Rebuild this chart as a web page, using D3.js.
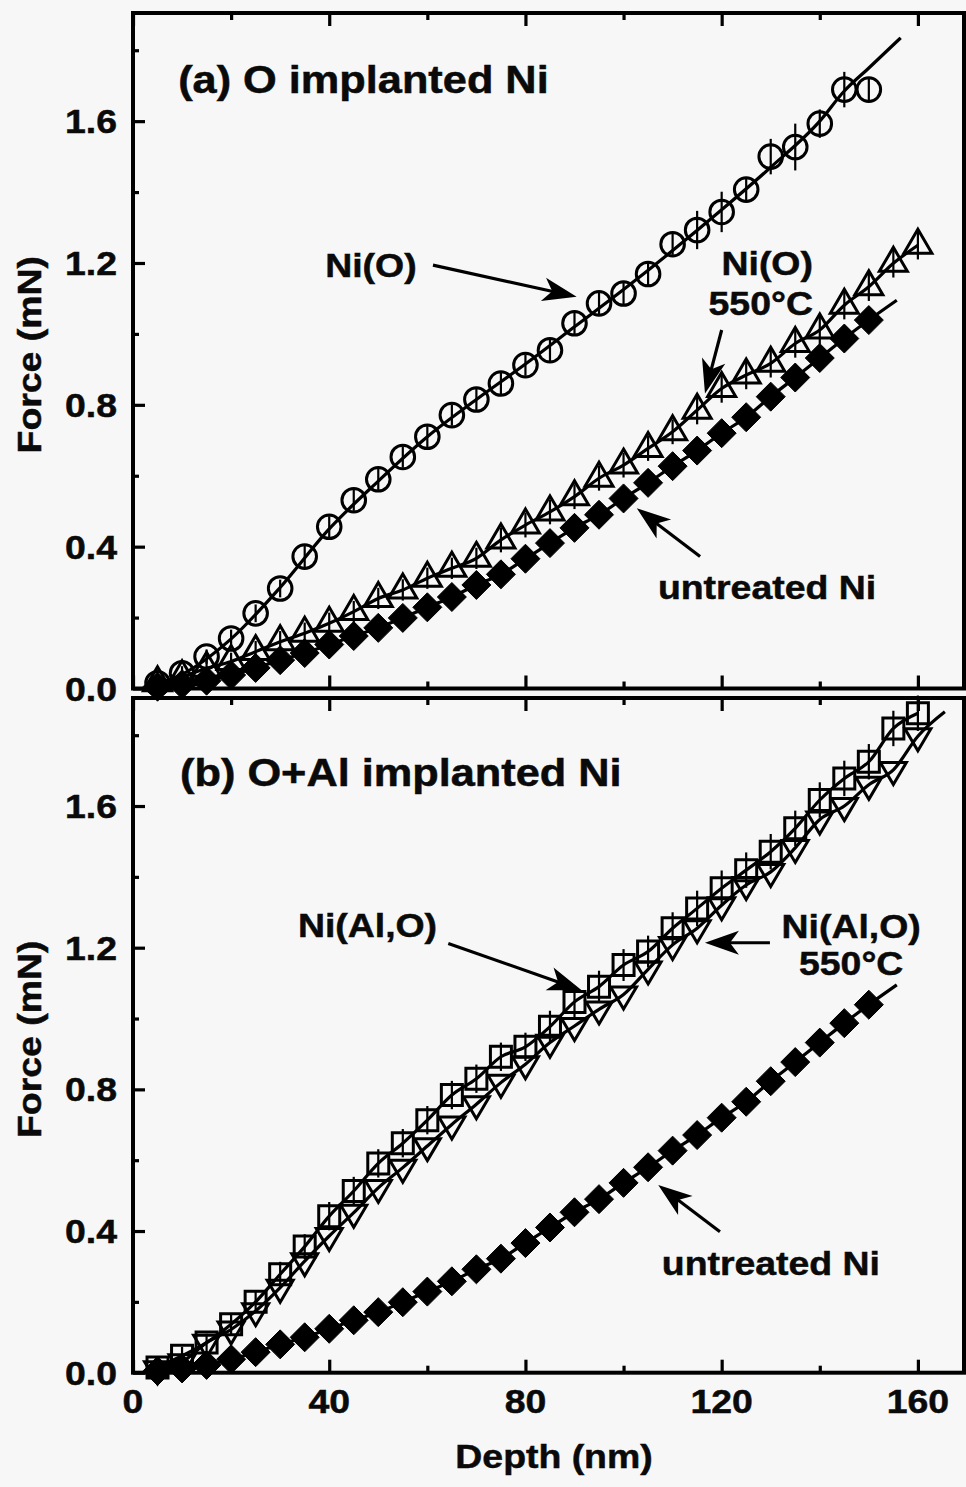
<!DOCTYPE html>
<html>
<head>
<meta charset="utf-8">
<script src="https://d3js.org/d3.v7.min.js"></script>
<style>
  body { margin: 0; background: #f7f7f7; }
  svg { display: block; }
  text {
    font-family: "Liberation Sans", Arial, Helvetica, sans-serif;
    font-weight: bold;
    fill: #0a0a0a;
    stroke: #0a0a0a;
    stroke-width: 0.5px;
  }
  .tick line { stroke: #000; stroke-width: 3.2; }
  .domain { display: none; }
</style>
</head>
<body>
<script>
// indentation depths (nm)
var depth150 = [5,10,15,20,25,30,35,40,45,50,55,60,65,70,75,80,85,90,95,100,105,110,115,120,125,130,135,140,145,150];
var depth160 = [5,10,15,20,25,30,35,40,45,50,55,60,65,70,75,80,85,90,95,100,105,110,115,120,125,130,135,140,145,150,155,160];

// (a) O implanted Ni - force (mN)
var niO = [0.015,0.043,0.09,0.141,0.212,0.282,0.372,0.456,0.531,0.59,
           0.653,0.71,0.771,0.815,0.86,0.912,0.954,1.03,1.086,1.114,
           1.169,1.253,1.293,1.344,1.407,1.50,1.527,1.593,1.689,1.689];
var niOErr = [0.02,0.02,0.02,0.025,0.025,0.025,0.03,0.03,0.03,0.03,
              0.03,0.03,0.03,0.03,0.03,0.03,0.035,0.035,0.035,0.035,
              0.035,0.03,0.054,0.057,0.032,0.05,0.066,0.04,0.05,0.03];
// smooth curve drawn through the Ni(O) circles
var niOFitX = [3,5,10,20,30,40,50,60,70,80,90,100,110,120,130,140,145,150,156.5];
var niOFitY = [0,0.012,0.04,0.14,0.285,0.45,0.585,0.71,0.815,0.915,1.02,1.125,1.235,1.35,1.47,1.6,1.685,1.75,1.835];

var niOAnn = [0.016,0.033,0.057,0.076,0.104,0.132,0.156,0.184,0.217,0.254,
              0.278,0.311,0.339,0.367,0.419,0.461,0.498,0.541,0.593,0.63,
              0.677,0.724,0.785,0.846,0.884,0.917,0.973,1.011,1.081,1.133,
              1.199,1.25];
var niOAnnErr = [0.02,0.02,0.025,0.025,0.03,0.03,0.03,0.03,0.03,0.03,
                 0.03,0.03,0.03,0.03,0.035,0.035,0.035,0.035,0.035,0.035,
                 0.035,0.035,0.04,0.04,0.04,0.04,0.04,0.04,0.04,0.04,
                 0.04,0.04];

// untreated Ni (same in both panels)
var untreated = [0.005,0.012,0.022,0.038,0.058,0.08,0.1,0.124,0.148,0.171,
                 0.199,0.229,0.258,0.292,0.322,0.366,0.41,0.453,0.49,0.536,
                 0.58,0.627,0.671,0.72,0.765,0.823,0.877,0.932,0.987,1.039];
var untreatedTailX = [155.7];
var untreatedTailY = [1.095];

// (b) O+Al implanted Ni
var niAlO = [0.015,0.048,0.085,0.137,0.2,0.278,0.356,0.442,0.513,0.591,
             0.648,0.713,0.784,0.83,0.892,0.92,0.977,1.047,1.09,1.151,
             1.189,1.255,1.311,1.368,1.419,1.471,1.537,1.617,1.678,1.725,
             1.819,1.862];
var niAlOErr = [0.02,0.025,0.025,0.03,0.03,0.035,0.035,0.04,0.04,0.04,
                0.04,0.04,0.04,0.04,0.04,0.04,0.045,0.045,0.045,0.045,
                0.045,0.045,0.05,0.05,0.05,0.05,0.05,0.05,0.05,0.05,
                0.05,0.05];

var niAlOAnn = [0.01,0.03,0.085,0.122,0.174,0.24,0.315,0.386,0.452,0.522,
                0.579,0.64,0.701,0.758,0.819,0.871,0.932,0.979,1.026,1.068,
                1.139,1.208,1.255,1.32,1.377,1.414,1.482,1.562,1.60,1.66,
                1.702,1.797];
var niAlOAnnTailX = [165.5];
var niAlOAnnTailY = [1.866];

// axis ticks
var yMajor = [0, 0.4, 0.8, 1.2, 1.6];
var yMinor = [0.2, 0.6, 1.0, 1.4, 1.8];
var xMajor = [0, 40, 80, 120, 160];
var xMinor = [20, 60, 100, 140];

var width = 966, height = 1487;
var STRETCH = 1.1; // the scanned Helvetica is a bit wider than Liberation Sans

var x = d3.scaleLinear().domain([0, 169.4]).range([133, 964]);
var boxes = [{top: 13, bottom: 688.5}, {top: 698, bottom: 1372.7}];

var svg = d3.select("body").append("svg")
  .attr("width", width)
  .attr("height", height);

svg.append("rect")
  .attr("width", width)
  .attr("height", height)
  .attr("fill", "#f7f7f7");

function label(g, str, px, py, size, anchor, rotate, stretch) {
  var tf = "translate(" + px + "," + py + ")" +
    (rotate ? " rotate(" + rotate + ")" : "") +
    " scale(" + (stretch || STRETCH) + ",1)";
  return g.append("text")
    .attr("transform", tf)
    .attr("text-anchor", anchor || "start")
    .style("font-size", size + "px")
    .text(str);
}

var markers = {
  circle: d3.symbol(d3.symbolCircle, Math.PI * 11.8 * 11.8)(),
  triUp: "M0,-16L14,8L-14,8Z",
  triDown: "M0,14.6L13,-7.4L-13,-7.4Z",
  square: "M-10.5,-10.5H10.5V10.5H-10.5Z",
  diamond: "M0,-14.5L14.5,0L0,14.5L-14.5,0Z"
};

var headPath = "M0,0L-34,-12L-25,0L-34,12Z";

function pairs(xs, ys) {
  return xs.map(function(v, i) { return [v, ys[i]]; });
}

function drawPanel(box, series, notes, title, showX) {
  var y = d3.scaleLinear().domain([0, 1.905]).range([box.bottom, box.top]);
  var g = svg.append("g");

  var line = d3.line()
    .x(function(d) { return x(d[0]); })
    .y(function(d) { return y(d[1]); })
    .curve(d3.curveMonotoneX);

  // curves
  series.forEach(function(s) {
    var pts = s.lineX ? pairs(s.lineX, s.lineY) : pairs(s.x, s.y);
    if (s.tailX) pts = pts.concat(pairs(s.tailX, s.tailY));
    g.append("path")
      .attr("d", line(pts))
      .attr("fill", "none")
      .attr("stroke", "#000")
      .attr("stroke-width", 3.2);
  });

  // error bars
  series.forEach(function(s) {
    if (!s.err) return;
    g.append("g").selectAll("line")
      .data(pairs(s.x, s.y).map(function(d, i) { return [d[0], d[1], s.err[i]]; }))
      .enter().append("line")
      .attr("x1", function(d) { return x(d[0]); })
      .attr("x2", function(d) { return x(d[0]); })
      .attr("y1", function(d) { return y(d[1] - d[2]); })
      .attr("y2", function(d) { return y(d[1] + d[2]); })
      .attr("stroke", "#000")
      .attr("stroke-width", 2.2);
  });

  // markers
  series.forEach(function(s) {
    var filled = s.marker === "diamond";
    g.append("g").selectAll("path")
      .data(pairs(s.x, s.y))
      .enter().append("path")
      .attr("d", markers[s.marker])
      .attr("transform", function(d) { return "translate(" + x(d[0]) + "," + y(d[1]) + ")"; })
      .attr("fill", filled ? "#000" : "none")
      .attr("stroke", "#000")
      .attr("stroke-width", filled ? 1 : 3);
  });

  // ticks (all pointing inward)
  g.append("g").attr("transform", "translate(133,0)")
    .call(d3.axisLeft(y).tickValues(yMajor).tickSize(-12).tickSizeOuter(0).tickFormat(""));
  g.append("g").attr("transform", "translate(133,0)")
    .call(d3.axisLeft(y).tickValues(yMinor).tickSize(-6).tickSizeOuter(0).tickFormat(""));
  g.append("g").attr("transform", "translate(0," + box.top + ")")
    .call(d3.axisTop(x).tickValues(xMajor).tickSize(-13).tickSizeOuter(0).tickFormat(""));
  g.append("g").attr("transform", "translate(0," + box.top + ")")
    .call(d3.axisTop(x).tickValues(xMinor).tickSize(-7).tickSizeOuter(0).tickFormat(""));
  g.append("g").attr("transform", "translate(0," + box.bottom + ")")
    .call(d3.axisBottom(x).tickValues(xMajor).tickSize(-13).tickSizeOuter(0).tickFormat(""));
  g.append("g").attr("transform", "translate(0," + box.bottom + ")")
    .call(d3.axisBottom(x).tickValues(xMinor).tickSize(-7).tickSizeOuter(0).tickFormat(""));

  // frame
  g.append("rect")
    .attr("x", 133)
    .attr("y", box.top)
    .attr("width", 964 - 133)
    .attr("height", box.bottom - box.top)
    .attr("fill", "none")
    .attr("stroke", "#000")
    .attr("stroke-width", 4);

  // y tick labels
  yMajor.forEach(function(v) {
    label(g, d3.format(".1f")(v), 117, y(v) + 12, 34, "end");
  });
  if (showX) {
    xMajor.forEach(function(v) {
      label(g, String(v), x(v), 1413, 34, "middle");
    });
  }

  label(g, "Force (mN)", 40.5, (box.top + box.bottom) / 2 + 4, 34, "middle", -90);
  label(g, title.text, x(title.x), y(title.y), 38, "start", 0, 1.14);

  // annotations
  notes.texts.forEach(function(t) {
    label(g, t.t, x(t.x), y(t.y), 34, t.anchor);
  });
  notes.arrows.forEach(function(a) {
    var x1 = x(a.x1), y1 = y(a.y1), x2 = x(a.x2), y2 = y(a.y2);
    var ang = Math.atan2(y2 - y1, x2 - x1);
    g.append("line")
      .attr("x1", x1).attr("y1", y1)
      .attr("x2", x2 - 22 * Math.cos(ang)).attr("y2", y2 - 22 * Math.sin(ang))
      .attr("stroke", "#000")
      .attr("stroke-width", 3.2);
    g.append("path")
      .attr("d", headPath)
      .attr("transform", "translate(" + x2 + "," + y2 + ") rotate(" + (ang * 180 / Math.PI) + ")")
      .attr("fill", "#000");
  });
}

drawPanel(boxes[0],
  [
    {x: depth150, y: niO, err: niOErr, marker: "circle", lineX: niOFitX, lineY: niOFitY},
    {x: depth160, y: niOAnn, err: niOAnnErr, marker: "triUp"},
    {x: depth150, y: untreated, marker: "diamond", tailX: untreatedTailX, tailY: untreatedTailY}
  ],
  {
    texts: [
      {t: "Ni(O)", x: 48.5, y: 1.160, anchor: "middle"},
      {t: "Ni(O)", x: 138.6, y: 1.166, anchor: "end"},
      {t: "550°C", x: 138.6, y: 1.053, anchor: "end"},
      {t: "untreated Ni", x: 107.0, y: 0.2515, anchor: "start"}
    ],
    arrows: [
      {x1: 61.15, y1: 1.194, x2: 90.44, y2: 1.105},
      {x1: 120.0, y1: 1.011, x2: 116.6, y2: 0.832},
      {x1: 115.6, y1: 0.372, x2: 102.7, y2: 0.508}
    ]
  },
  {text: "(a) O implanted Ni", x: 9.2, y: 1.68},
  false);

drawPanel(boxes[1],
  [
    {x: depth160, y: niAlO, err: niAlOErr, marker: "square"},
    {x: depth160, y: niAlOAnn, marker: "triDown", tailX: niAlOAnnTailX, tailY: niAlOAnnTailY},
    {x: depth150, y: untreated, marker: "diamond", tailX: untreatedTailX, tailY: untreatedTailY}
  ],
  {
    texts: [
      {t: "Ni(Al,O)", x: 47.8, y: 1.231, anchor: "middle"},
      {t: "Ni(Al,O)", x: 146.4, y: 1.226, anchor: "middle"},
      {t: "550°C", x: 146.4, y: 1.123, anchor: "middle"},
      {t: "untreated Ni", x: 107.8, y: 0.276, anchor: "start"}
    ],
    arrows: [
      {x1: 64.27, y1: 1.212, x2: 91.46, y2: 1.080},
      {x1: 129.84, y1: 1.214, x2: 116.59, y2: 1.214},
      {x1: 119.65, y1: 0.398, x2: 107.07, y2: 0.530}
    ]
  },
  {text: "(b) O+Al implanted Ni", x: 9.6, y: 1.656},
  true);

label(svg, "Depth (nm)", 554, 1468, 34, "middle");
</script>
</body>
</html>
